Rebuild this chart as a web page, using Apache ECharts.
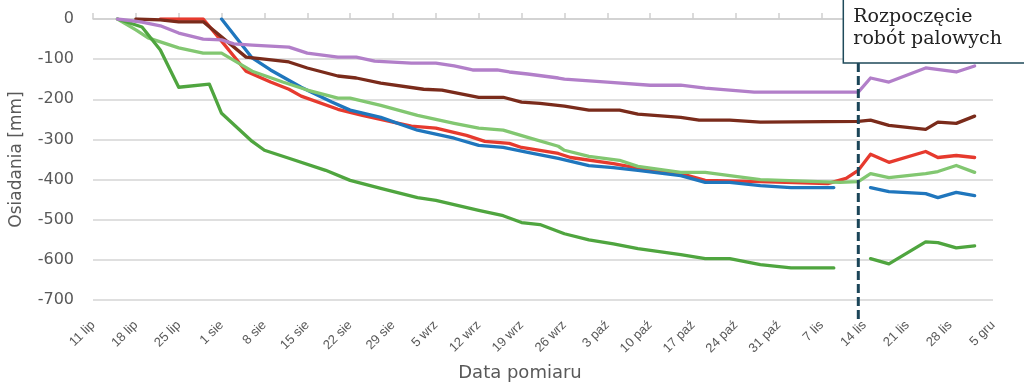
<!DOCTYPE html>
<html><head><meta charset="utf-8">
<script src="https://cdn.jsdelivr.net/npm/echarts@6/dist/echarts.min.js"></script>
<style>html,body{margin:0;padding:0;background:#fff}#c{width:1024px;height:384px}</style>
</head><body><div id="c"></div>
<script>
// x in days since 11 lip, y in mm
const tickLabels = ['11 lip','18 lip','25 lip','1 sie','8 sie','15 sie','22 sie','29 sie','5 wrz','12 wrz','19 wrz','26 wrz','3 paź','10 paź','17 paź','24 paź','31 paź','7 lis','14 lis','21 lis','28 lis','5 gru'];
const pilingStartDay = 125;
const annotationText = 'Rozpoczęcie\nrobót palowych';

const red = [[11,0],[18,0],[21,-55],[25,-130],[29,-157],[32,-175],[34,-192],[40,-225],[44,-240],[49,-257],[52,-267],[56,-272],[61,-290],[64,-305],[68,-310],[70,-320],[76,-335],[78,-345],[85,-360],[91,-377],[96,-385],[100,-402],[109,-405],[120,-410],[123,-397],[125,-377],[127,-337],[130,-357],[136,-330],[138,-345],[141,-340],[144,-345]];
const blue = [[21,0],[26,-97],[29,-127],[34,-170],[39,-207],[42,-227],[47,-245],[53,-277],[59,-297],[63,-315],[67,-320],[71,-332],[76,-347],[81,-365],[85,-370],[89,-377],[96,-390],[100,-407],[104,-407],[109,-415],[114,-420],[121,-420],[124,null],[127,-420],[130,-430],[136,-435],[138,-445],[141,-432],[144,-440]];
const lightGreen = [[4,0],[7,-27],[9,-47],[14,-72],[18,-85],[21,-85],[26,-130],[31,-157],[35,-177],[40,-197],[42,-197],[47,-215],[53,-240],[59,-260],[63,-272],[67,-277],[71,-295],[76,-317],[77,-327],[81,-342],[86,-352],[89,-367],[96,-382],[100,-382],[104,-390],[109,-400],[122,-407],[125,-405],[127,-385],[130,-395],[136,-385],[138,-380],[141,-365],[144,-382]];
const darkGreen = [[4,0],[8,-20],[11,-77],[14,-170],[19,-162],[21,-235],[26,-305],[28,-327],[32,-347],[38,-377],[42,-402],[47,-422],[53,-445],[56,-452],[63,-477],[67,-490],[70,-507],[73,-512],[77,-535],[81,-550],[85,-560],[89,-572],[96,-587],[100,-597],[104,-597],[109,-612],[114,-620],[121,-620],[124,null],[127,-597],[130,-610],[136,-555],[138,-557],[141,-570],[144,-565]];
const brown = [[7,0],[11,-2],[14,-7],[18,-7],[25,-95],[28,-100],[32,-107],[35,-122],[40,-142],[43,-147],[47,-160],[54,-175],[57,-177],[63,-195],[67,-195],[70,-207],[73,-210],[77,-217],[81,-227],[86,-227],[89,-237],[96,-245],[99,-252],[104,-252],[109,-257],[125,-255],[127,-252],[130,-265],[136,-275],[138,-257],[141,-260],[144,-242]];
const purple = [[4,0],[8,-8],[11,-17],[14,-35],[18,-50],[21,-52],[23,-62],[26,-65],[32,-70],[35,-85],[40,-95],[43,-95],[46,-105],[52,-110],[56,-110],[59,-117],[62,-127],[66,-127],[68,-132],[71,-137],[76,-147],[77,-150],[84,-157],[91,-165],[96,-165],[100,-172],[108,-182],[112,-182],[125,-182],[127,-147],[130,-157],[136,-122],[141,-132],[144,-117]];

const chart = echarts.init(document.getElementById('c'), null, {renderer:'canvas'});
const mk = (name, color, data) => ({type:'line', name, data, symbol:'none', showSymbol:false, connectNulls:false,
  lineStyle:{width:3.3, color, cap:'round', join:'round'}, itemStyle:{color}});
const grey = '#595959';
chart.setOption({
  animation:false,
  backgroundColor:'#fff',
  grid:{left:93, right:31, top:19, bottom:84, containLabel:false, outerBoundsMode:'none'},
  xAxis:{type:'value', min:0, max:147, interval:7,
    axisLine:{lineStyle:{color:'#cfcfcf', width:1.5}},
    axisTick:{inside:true, length:6, lineStyle:{color:'#cfcfcf', width:1.5}},
    splitLine:{show:false},
    axisLabel:{rotate:45, formatter:v=>tickLabels[Math.round(v/7)], color:grey, fontSize:13, fontFamily:'Liberation Sans', margin:23},
    name:'Data pomiaru', nameLocation:'middle', nameGap:64,
    nameTextStyle:{color:grey, fontSize:18, fontFamily:'DejaVu Sans', padding:[0,46,0,0]}},
  yAxis:{type:'value', min:-700, max:0, interval:100,
    axisLine:{show:false}, axisTick:{show:false},
    splitLine:{lineStyle:{color:'#d4d4d4', width:1.5}},
    axisLabel:{color:grey, fontSize:16, fontFamily:'DejaVu Sans', margin:19},
    name:'Osiadania [mm]', nameLocation:'middle', nameGap:68, nameRotate:90,
    nameTextStyle:{color:grey, fontSize:17, fontFamily:'DejaVu Sans'}},
  series:[
    mk('red','#e63a2e',red),
    mk('blue','#1f76bd',blue),
    mk('lightGreen','#82c771',lightGreen),
    mk('darkGreen','#4fa53f',darkGreen),
    mk('brown','#7a2b1b',brown),
    mk('purple','#b27fc9',purple)
  ]
});
const px = chart.convertToPixel({xAxisIndex:0, yAxisIndex:0}, [pilingStartDay, 0])[0];
chart.setOption({graphic:[
  {type:'line', z:100, shape:{x1:px, y1:63, x2:px, y2:323},
   style:{stroke:'#1b4558', lineWidth:3, lineDash:[9,4]}},
  {type:'rect', z:101, shape:{x:px-15, y:-4, width:200, height:67},
   style:{fill:'#fff', stroke:'#1f4a5a', lineWidth:1.5}},
  {type:'text', z:102, x:px-5, y:6,
   style:{text:annotationText, font:'19px "DejaVu Serif"', lineHeight:22, fill:'#222'}}
]});
</script></body></html>
